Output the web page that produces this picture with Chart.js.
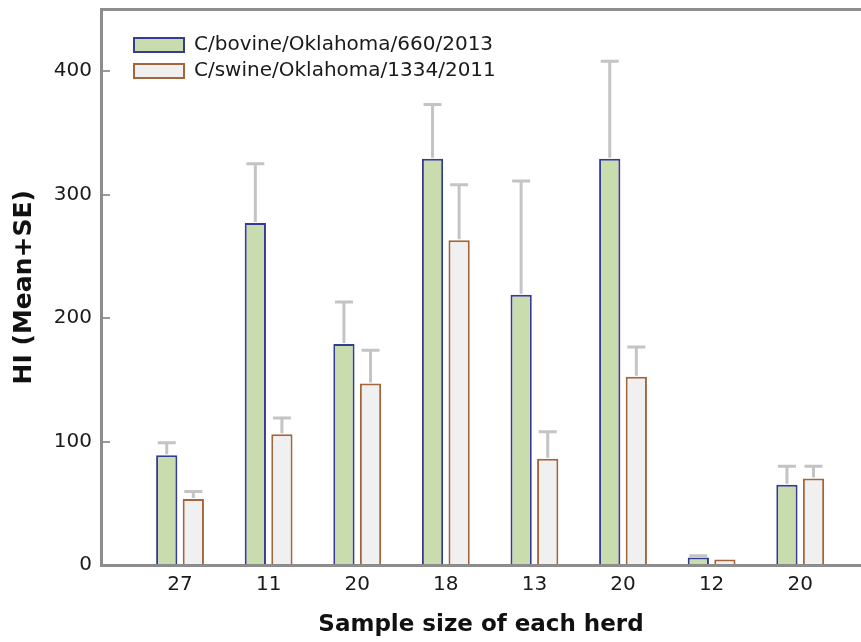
<!DOCTYPE html>
<html>
<head>
<meta charset="utf-8">
<script src="https://cdn.jsdelivr.net/npm/chart.js@4/dist/chart.umd.min.js"></script>
<style>
  html, body { margin: 0; padding: 0; background: #ffffff; }
  #wrap { position: relative; width: 861px; height: 642px; }
</style>
</head>
<body>
<div id="wrap"><canvas id="c"></canvas></div>
<script>
// ---- data ----
const categories = ['27', '11', '20', '18', '13', '20', '12', '20'];
const seriesNames = ['C/bovine/Oklahoma/660/2013', 'C/swine/Oklahoma/1334/2011'];
const bovineMean = [89, 277, 179, 329, 219, 329, 6, 65];
const bovineSE   = [10, 48, 34, 44, 92, 79, 1.5, 15];
const swineMean  = [53.5, 106, 147, 263, 86, 152.5, 4.5, 70];
const swineSE    = [6, 13, 27, 45, 22, 24, 0, 10];
const yTicks = [0, 100, 200, 300, 400];

const toPoints = (arr) => arr.map((v, i) => ({ x: i, y: v }));

const errorBarPlugin = {
  id: 'errorBars',
  afterDatasetsDraw(chart) {
    const ctx = chart.ctx;
    const yScale = chart.scales.y;
    const seList = [bovineSE, swineSE];
    const meanList = [bovineMean, swineMean];
    ctx.save();
    ctx.strokeStyle = '#c4c4c4';
    ctx.lineWidth = 3;
    chart.data.datasets.forEach((ds, di) => {
      const meta = chart.getDatasetMeta(di);
      meta.data.forEach((bar, i) => {
        const se = seList[di][i];
        if (!se) return;
        const yTop = yScale.getPixelForValue(meanList[di][i] + se);
        const yBar = bar.y;
        const half = 9;
        ctx.beginPath();
        ctx.moveTo(bar.x, yBar - 1);
        ctx.lineTo(bar.x, yTop);
        ctx.moveTo(bar.x - half, yTop);
        ctx.lineTo(bar.x + half, yTop);
        ctx.stroke();
      });
    });
    ctx.restore();
  }
};

const legendShift = {
  id: 'legendShift',
  afterLayout(chart) {
    if (chart.legend) {
      chart.legend.left = 128;
      chart.legend.top = 29;
    }
  }
};

Chart.defaults.font.family = "'DejaVu Sans', Verdana, sans-serif";
Chart.defaults.color = '#1a1a1a';

new Chart(document.getElementById('c'), {
  type: 'bar',
  data: {
    datasets: [
      {
        label: seriesNames[0],
        data: toPoints(bovineMean),
        backgroundColor: '#c9dcad',
        borderColor: '#343c94',
        borderWidth: 2,
        categoryPercentage: 0.6,
        barPercentage: 0.8
      },
      {
        label: seriesNames[1],
        data: toPoints(swineMean),
        backgroundColor: '#f0f0f0',
        borderColor: '#a2653c',
        borderWidth: 2,
        categoryPercentage: 0.6,
        barPercentage: 0.8
      }
    ]
  },
  plugins: [errorBarPlugin, legendShift],
  options: {
    responsive: true,
    maintainAspectRatio: false,
    animation: false,
    layout: { padding: 0 },
    plugins: {
      tooltip: { enabled: false },
      legend: {
        position: 'chartArea',
        fullSize: false,
        align: 'start',
        labels: {
          boxWidth: 50,
          boxHeight: 14,
          padding: 6,
          color: '#1a1a1a',
          font: { size: 20 }
        }
      }
    },
    scales: {
      x: {
        type: 'linear',
        position: 'bottom',
        offset: false,
        min: -0.892,
        max: 7.686,
        afterFit: (s) => { s.height = 77; s.paddingLeft = 0; s.paddingRight = 0; },
        grid: { display: false, offset: false },
        border: { display: true, color: '#8c8c8c', width: 3 },
        ticks: {
          stepSize: 1,
          includeBounds: false,
          autoSkip: false,
          maxRotation: 0,
          padding: 0,
          color: '#1a1a1a',
          font: { size: 20 },
          callback: (v) => Number.isInteger(v) && categories[v] !== undefined ? categories[v] : ''
        },
        title: {
          display: true,
          text: 'Sample size of each herd',
          color: '#111111',
          font: { size: 23, weight: 'bold' },
          padding: { top: 0, bottom: 3 }
        }
      },
      x2: {
        type: 'linear',
        position: 'top',
        offset: false,
        min: -0.892,
        max: 7.686,
        afterFit: (s) => { s.height = 9.5; s.paddingLeft = 0; s.paddingRight = 0; },
        grid: { display: false, offset: false },
        border: { display: true, color: '#8c8c8c', width: 3 },
        ticks: { display: false }
      },
      y: {
        type: 'linear',
        min: 0,
        max: 450,
        afterFit: (s) => { s.width = 101; s.paddingTop = 0; s.paddingBottom = 0; },
        afterBuildTicks: (s) => { s.ticks = yTicks.map(v => ({ value: v })); },
        grid: {
          drawOnChartArea: false,
          drawTicks: true,
          tickLength: -9,
          color: '#9a9a9a',
          lineWidth: 2
        },
        border: { display: true, color: '#8c8c8c', width: 3 },
        ticks: {
          padding: 18,
          color: '#1a1a1a',
          font: { size: 20 }
        },
        title: {
          display: true,
          text: 'HI (Mean+SE)',
          color: '#111111',
          font: { size: 25, weight: 'bold' },
          padding: { top: 9, bottom: 0 }
        }
      }
    }
  }
});
</script>
</body>
</html>
